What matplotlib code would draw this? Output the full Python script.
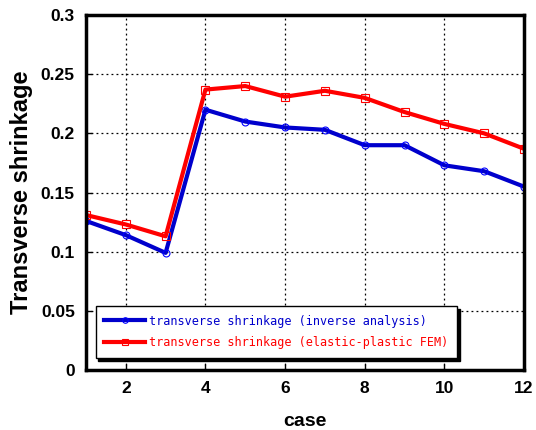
import numpy as np
import matplotlib
matplotlib.use('Agg')
import matplotlib.pyplot as plt

cases = [1, 2, 3, 4, 5, 6, 7, 8, 9, 10, 11, 12]
inverse = [0.126, 0.114, 0.099, 0.220, 0.210, 0.205, 0.203, 0.190, 0.190, 0.173, 0.168, 0.155]
fem = [0.131, 0.123, 0.113, 0.237, 0.240, 0.231, 0.236, 0.230, 0.218, 0.208, 0.200, 0.187]

plt.rcParams['font.family'] = ['Liberation Sans', 'DejaVu Sans']

fig = plt.figure(figsize=(5.36, 4.30), dpi=100)
ax = fig.add_axes([0.1604, 0.1395, 0.8172, 0.8255])

ax.plot(cases, inverse, color='#0000cc', lw=3, marker='o', ms=5,
        mfc='none', mec='#0000ff', mew=0.8,
        label='transverse shrinkage (inverse analysis)')
ax.plot(cases, fem, color='#ff0000', lw=3, marker='s', ms=5.5,
        mfc='none', mec='#ff0000', mew=0.8,
        label='transverse shrinkage (elastic-plastic FEM)')

ax.set_xlim(1, 12)
ax.set_ylim(0, 0.3)
ax.set_xticks([2, 4, 6, 8, 10, 12])
ax.set_yticks([0, 0.05, 0.1, 0.15, 0.2, 0.25, 0.3])
ax.set_yticklabels(['0', '0.05', '0.1', '0.15', '0.2', '0.25', '0.3'])
ax.grid(True, color='black', linestyle=(0, (1.5, 2.5)), linewidth=0.9)
ax.tick_params(direction='in', length=4, width=1, labelsize=12.5, pad=8)
for lbl in ax.get_xticklabels() + ax.get_yticklabels():
    lbl.set_fontweight('bold')
for sp in ax.spines.values():
    sp.set_linewidth(2.5)

ax.set_xlabel('case', fontsize=14, fontweight='bold', labelpad=12)
ax.set_ylabel('Transverse shrinkage', fontsize=17, fontweight='bold', labelpad=6)

leg = ax.legend(loc='lower left', bbox_to_anchor=(0.022, 0.033), fancybox=False,
                shadow={'color': 'black', 'alpha': 1}, edgecolor='black', framealpha=1,
                prop={'family': 'DejaVu Sans Mono', 'size': 8.5},
                handlelength=3.4, borderpad=0.75, labelspacing=0.75,
                handletextpad=0.35, borderaxespad=0, markerscale=0.8)
leg.get_frame().set_linewidth(1)
for txt, c in zip(leg.get_texts(), ['#0000cc', '#ff0000']):
    txt.set_color(c)

plt.savefig('out.png', dpi=100)
